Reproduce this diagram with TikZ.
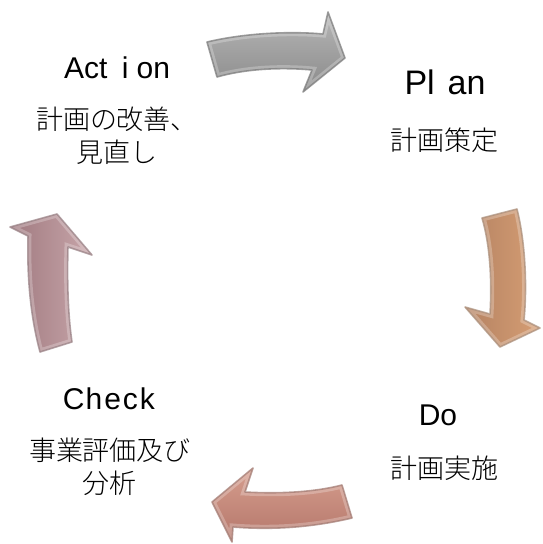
\documentclass[tikz,border=0pt]{standalone}
\usepackage{fontspec}
\setmainfont{Liberation Sans}
\newfontfamily\cjk{Noto Sans CJK JP Light}
\definecolor{grayA}{RGB}{182,182,182}
\definecolor{grayB}{RGB}{138,138,138}
\definecolor{grayE}{RGB}{120,120,120}
\definecolor{oraA}{RGB}{214,158,116}
\definecolor{oraB}{RGB}{180,130,98}
\definecolor{oraE}{RGB}{168,140,120}
\definecolor{salA}{RGB}{214,158,142}
\definecolor{salB}{RGB}{180,118,106}
\definecolor{salE}{RGB}{160,120,112}
\definecolor{mauA}{RGB}{200,166,170}
\definecolor{mauB}{RGB}{160,122,128}
\definecolor{mauE}{RGB}{150,126,130}
\def\PathTop{(207,42) .. controls (245,33) and (290,31) .. (323,34) -- (328,12) -- (345,58) -- (303,92) -- (312,70) .. controls (280,67) and (245,69) .. (217,77) -- cycle}
\def\PathRight{(482,218) -- (517,209) .. controls (526,245) and (527,290) .. (524,320) -- (540,328) -- (500,347) -- (465,307) -- (490,314) .. controls (492,280) and (490,245) .. (482,218) -- cycle}
\def\PathBottom{(342,485) -- (352,518) .. controls (310,528) and (270,530) .. (233,527) -- (232,542) -- (212,502) -- (253,468) -- (245,492) .. controls (280,494) and (315,492) .. (342,485) -- cycle}
\def\PathLeft{(40,352) .. controls (30,315) and (27,275) .. (28,236) -- (10,227) -- (57,214) -- (92,255) -- (68,247) .. controls (67,280) and (68,315) .. (72,342) -- cycle}
\newcommand\wl[2]{\makebox[#1][l]{#2}}
\newcommand\wc[2]{\makebox[#1][c]{#2}}
\tikzset{
  lat/.style={inner sep=0pt, font=\fontsize{30}{36}\selectfont},
  latbig/.style={inner sep=0pt, font=\fontsize{34}{40}\selectfont},
  jp/.style={inner sep=0pt, align=center, font=\cjk\fontsize{27}{33}\selectfont},
}
\begin{document}
\begin{tikzpicture}[x=1pt,y=-1pt]
\useasboundingbox (0,0) rectangle (542,544);
% top arrow (gray)
\shade[top color=grayA, bottom color=grayB] \PathTop;
\begin{scope}\clip \PathTop; \draw[white, opacity=0.25, line width=7pt] \PathTop; \end{scope}
\draw[grayE, opacity=0.7, line width=1.6pt, line join=round] \PathTop;
% right arrow (orange)
\shade[left color=oraB, right color=oraA] \PathRight;
\begin{scope}\clip \PathRight; \draw[white, opacity=0.25, line width=7pt] \PathRight; \end{scope}
\draw[oraE, opacity=0.7, line width=1.6pt, line join=round] \PathRight;
% bottom arrow (salmon)
\shade[top color=salA, bottom color=salB] \PathBottom;
\begin{scope}\clip \PathBottom; \draw[white, opacity=0.25, line width=7pt] \PathBottom; \end{scope}
\draw[salE, opacity=0.7, line width=1.6pt, line join=round] \PathBottom;
% left arrow (mauve)
\shade[left color=mauB, right color=mauA] \PathLeft;
\begin{scope}\clip \PathLeft; \draw[white, opacity=0.25, line width=7pt] \PathLeft; \end{scope}
\draw[mauE, opacity=0.7, line width=1.6pt, line join=round] \PathLeft;
% texts
\node[lat] (action) at (117,68) {Ac\wl{0.5em}{t}\wc{0.75em}{i}on};
\node[jp] (actiontxt) at (117,136) {計画の改善、\\見直し};
\node[latbig] (plan) at (445,82) {P\wl{0.6em}{l}an};
\node[jp] (plantxt) at (444,140) {計画策定};
\node[lat] (do) at (438,415) {Do};
\node[jp] (dotxt) at (444,468) {計画実施};
\node[lat] (check) at (109,399) {C\kern1pt h\kern2pt e\kern2pt c\kern2pt k};
\node[jp] (checktxt) at (110,467) {事業評価及び\\分析};
\end{tikzpicture}
\end{document}
